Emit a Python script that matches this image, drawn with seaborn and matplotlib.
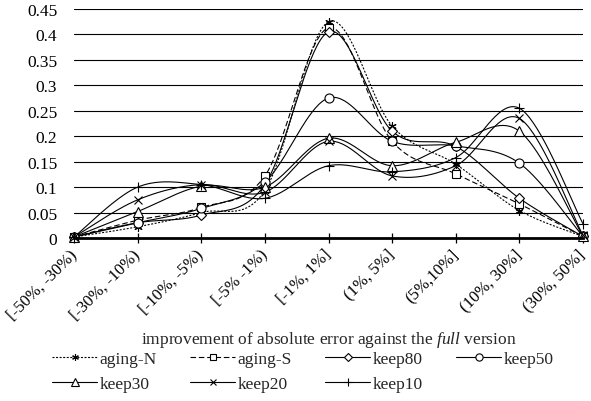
import numpy as np
import pandas as pd
import matplotlib
matplotlib.use("Agg")
import matplotlib.pyplot as plt
from matplotlib.lines import Line2D
import seaborn as sns

categories = ["[-50%, -30%)", "[-30%, -10%)", "[-10%, -5%)", "[-5% -1%)", "[-1%, 1%]",
              "(1%, 5%]", "(5%,10%]", "(10%, 30%]", "(30%, 50%]"]

aging_N = [0.002, 0.022, 0.050, 0.093, 0.425, 0.220, 0.145, 0.054, 0.003]
aging_S = [0.002, 0.035, 0.060, 0.122, 0.413, 0.190, 0.126, 0.067, 0.003]
keep80 = [0.002, 0.030, 0.045, 0.105, 0.405, 0.210, 0.180, 0.078, 0.003]
keep50 = [0.002, 0.030, 0.058, 0.110, 0.275, 0.190, 0.181, 0.147, 0.003]
keep30 = [0.002, 0.052, 0.102, 0.100, 0.196, 0.142, 0.188, 0.210, 0.003]
keep20 = [0.002, 0.075, 0.105, 0.090, 0.190, 0.122, 0.142, 0.235, 0.005]
keep10 = [0.002, 0.100, 0.105, 0.078, 0.142, 0.130, 0.158, 0.255, 0.028]

series_names = ["aging-N", "aging-S", "keep80", "keep50", "keep30", "keep20", "keep10"]
series_values = [aging_N, aging_S, keep80, keep50, keep30, keep20, keep10]

sns.set_theme(style="white")
plt.rcParams["font.family"] = ["Liberation Serif", "DejaVu Serif"]
plt.rcParams["mathtext.fontset"] = "custom"
plt.rcParams["mathtext.rm"] = "Liberation Serif"
plt.rcParams["mathtext.it"] = "Liberation Serif:italic"

styles = {
    "aging-N": dict(ls=(0, (1.8, 1.4)), marker=(6, 2, 0), ms=6),
    "aging-S": dict(ls=(0, (5, 2.5)), marker="s", ms=6),
    "keep80": dict(ls="-", marker="D", ms=5),
    "keep50": dict(ls="-", marker="o", ms=6.5),
    "keep30": dict(ls="-", marker="^", ms=7),
    "keep20": dict(ls="-", marker="x", ms=6),
    "keep10": dict(ls="-", marker="+", ms=7),
}


def smooth_curve(vals, n=40):
    x = np.arange(len(vals), dtype=float)
    P = np.column_stack([x, np.asarray(vals, dtype=float)])
    out = []
    m = len(P)
    t = np.linspace(0, 1, n)[:, None]
    for i in range(m - 1):
        p0 = P[max(i - 1, 0)]
        p1 = P[i]
        p2 = P[i + 1]
        p3 = P[min(i + 2, m - 1)]
        c1 = p1 + (p2 - p0) / 6.0
        c2 = p2 - (p3 - p1) / 6.0
        seg = ((1 - t) ** 3) * p1 + 3 * ((1 - t) ** 2) * t * c1 + 3 * (1 - t) * t ** 2 * c2 + t ** 3 * p2
        if i > 0:
            seg = seg[1:]
        out.append(seg)
    arr = np.vstack(out)
    return arr[:, 0], arr[:, 1]


fig = plt.figure(figsize=(5.91, 4.02), dpi=100)
ax = fig.add_axes([74 / 591, 1 - 239 / 402, (583 - 74) / 591, (239 - 10) / 402])

xs = np.arange(len(categories))
handle_map = {}
for name, vals in zip(series_names, series_values):
    st = styles[name]
    sx, sy = smooth_curve(vals)
    df = pd.DataFrame({"x": sx, "y": sy})
    sns.lineplot(data=df, x="x", y="y", ax=ax, estimator=None, sort=False,
                 color="black", linewidth=0.8, linestyle=st["ls"], zorder=3)
    ax.plot(xs, vals, linestyle="none", marker=st["marker"], markersize=st["ms"],
            markerfacecolor="white", markeredgecolor="black", markeredgewidth=0.8,
            zorder=4, clip_on=False)
    handle_map[name] = Line2D([], [], color="black", linewidth=0.8, linestyle=st["ls"],
                              marker=st["marker"], markersize=st["ms"] * 0.8,
                              markerfacecolor="white", markeredgecolor="black",
                              markeredgewidth=0.8)

ax.set_xlim(0, len(categories) - 1)
ax.set_ylim(0, 0.45)
ax.set_yticks(np.arange(0, 0.451, 0.05))
ax.set_yticklabels(["0", "0.05", "0.1", "0.15", "0.2", "0.25", "0.3", "0.35", "0.4", "0.45"])
ax.set_xticks(xs)
ax.set_xticklabels(categories)
ax.yaxis.grid(True, color="black", linewidth=0.8)
ax.set_axisbelow(True)
for s in ["left", "right", "top"]:
    ax.spines[s].set_visible(False)
ax.spines["bottom"].set_linewidth(2)
ax.spines["bottom"].set_color("black")
ax.spines["bottom"].set_zorder(5)
ax.tick_params(axis="y", length=0, pad=12, labelsize=12.5, colors="black")
ax.tick_params(axis="x", direction="inout", length=7.5, width=0.9, color="black",
               pad=6, labelsize=12, labelcolor="black", bottom=True)
for lab in ax.get_xticklabels():
    lab.set_rotation(45)
    lab.set_ha("right")
    lab.set_va("center")
    lab.set_rotation_mode("anchor")
ax.set_xlabel("")
ax.set_ylabel("")

fig.text(0.5 * (74 + 583) / 591, 1 - 340 / 402,
         r"improvement of absolute error against the $\mathit{full}$ version",
         ha="center", va="center", fontsize=12.5)

# matplotlib fills legend columns first; order so rows read like the reference
legend_order = ["aging-N", "keep30", "aging-S", "keep20", "keep80", "keep10", "keep50"]
fig.legend([handle_map[n] for n in legend_order], legend_order, loc="upper left",
           bbox_to_anchor=(52 / 591, 1 - 352 / 402),
           ncol=4, frameon=False, borderpad=0, borderaxespad=0, handlelength=2.6,
           handletextpad=0.15, columnspacing=1.9, labelspacing=0.5, fontsize=12.5)

fig.savefig("out.png", dpi=100)
